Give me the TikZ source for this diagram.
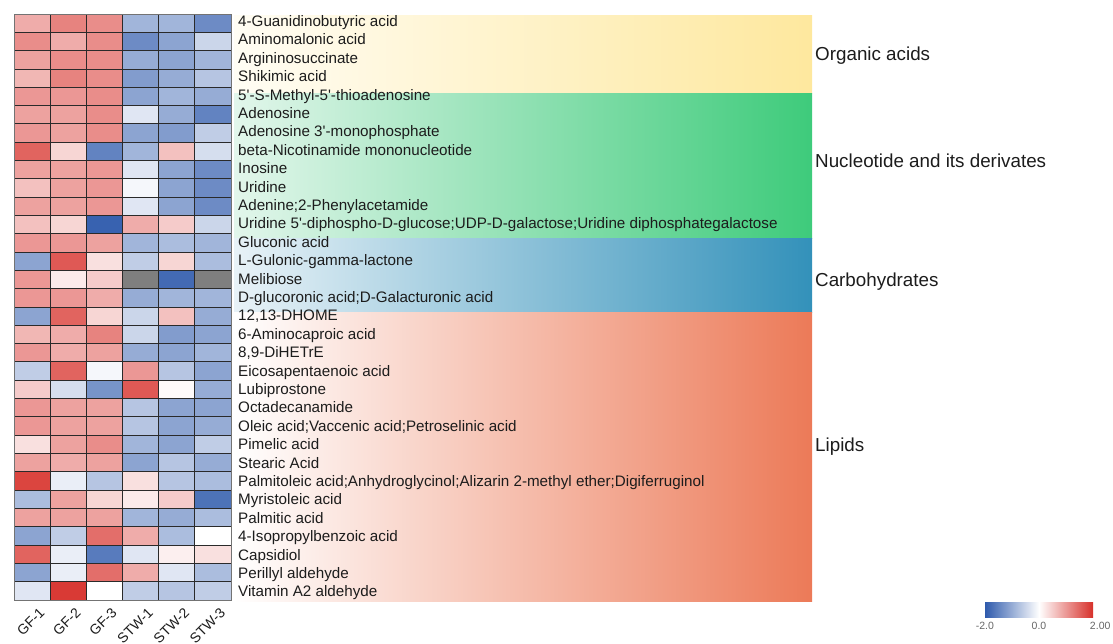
\documentclass[tikz,border=0pt]{standalone}
\usepackage{fontspec}
\setmainfont{Liberation Sans}
\usetikzlibrary{positioning}

\definecolor{hmblue}{HTML}{2E5AAC}
\definecolor{hmred}{HTML}{D7302A}
\definecolor{hmna}{HTML}{7F7F7F}
\definecolor{gridline}{HTML}{2A2A2A}
\definecolor{txt}{HTML}{1C1C1C}
\definecolor{orgL}{HTML}{FFFDF4}
\definecolor{orgR}{HTML}{FEE89E}
\definecolor{nucL}{HTML}{E2F6EB}
\definecolor{nucR}{HTML}{3ECB7B}
\definecolor{carL}{HTML}{E8F2F7}
\definecolor{carR}{HTML}{3391BA}
\definecolor{lipL}{HTML}{FFFFFF}
\definecolor{lipR}{HTML}{EC7A58}

\begin{document}
\begin{tikzpicture}[x=1pt, y=-1pt,
    cell/.style={draw=gridline, line width=0.8pt},
    rowlab/.style={anchor=west, inner sep=0pt, text height=10pt, text depth=3pt,
      font=\fontsize{15.2}{17}\selectfont, text=txt},
    grouplab/.style={anchor=west, inner sep=0pt, text height=13pt, text depth=4pt,
      font=\fontsize{18.8}{20}\selectfont, text=txt},
    collab/.style={anchor=east, rotate=45, inner sep=0pt,
      font=\fontsize{14}{16}\selectfont, text=txt},
    ticklab/.style={inner sep=0pt, font=\fontsize{10.5}{12}\selectfont, text=black!60}]

    \useasboundingbox (0,0) rectangle (1113,643);

    % Group bands
    \shade[left color=orgL, right color=orgR] (234,15) rectangle (812,93);
    \shade[left color=nucL, right color=nucR] (234,93) rectangle (812,238);
    \shade[left color=carL, right color=carR] (234,238) rectangle (812,312);
    \shade[left color=lipL, right color=lipR] (234,312) rectangle (812,601);

    % Heatmap (9 = NA)
    \foreach \vals [count=\r] in {
        {0.8,1.2,1.1,-0.9,-0.9,-1.4},
        {1.1,0.8,1.1,-1.4,-1.1,-0.5},
        {0.9,1.1,1.1,-1.0,-1.1,-0.9},
        {0.7,1.2,1.1,-1.2,-1.0,-0.7},
        {1.0,1.0,1.1,-1.1,-0.9,-1.0},
        {0.9,0.9,1.1,-0.3,-1.0,-1.5},
        {1.0,0.9,1.1,-1.1,-1.2,-0.6},
        {1.5,0.4,-1.5,-0.9,0.6,-0.4},
        {0.9,0.9,1.0,-0.3,-1.1,-1.4},
        {0.6,0.9,1.0,-0.1,-1.1,-1.4},
        {0.9,0.9,1.0,-0.3,-1.1,-1.4},
        {0.6,0.4,-1.9,0.8,0.5,-0.5},
        {1.0,1.0,0.9,-0.9,-0.8,-0.9},
        {-1.1,1.6,0.3,-0.6,0.4,-0.8},
        {1.0,0.2,0.5,9,-1.8,9},
        {1.0,1.0,0.8,-1.0,-0.9,-0.9},
        {-1.1,1.5,0.4,-0.5,0.6,-1.0},
        {0.7,0.8,1.2,-0.5,-1.2,-1.1},
        {1.0,0.8,0.9,-1.0,-1.1,-0.9},
        {-0.6,1.5,-0.1,1.0,-0.7,-1.1},
        {0.5,-0.4,-1.3,1.6,0.05,-1.0},
        {1.0,0.9,0.9,-0.7,-1.1,-1.1},
        {1.0,0.9,0.9,-0.7,-1.1,-1.0},
        {0.3,0.9,1.1,-0.9,-1.1,-0.6},
        {0.9,0.8,0.9,-1.1,-0.7,-1.0},
        {1.8,-0.2,-0.7,0.3,-0.7,-0.8},
        {-0.8,0.9,0.4,0.2,0.5,-1.7},
        {0.9,0.9,0.9,-0.9,-1.0,-0.8},
        {-1.1,-0.6,1.4,0.8,-0.8,0.0},
        {1.5,-0.2,-1.6,-0.3,0.15,0.3},
        {-1.1,-0.2,1.4,0.8,-0.3,-0.8},
        {-0.3,1.9,0.0,-0.6,-0.7,-0.6}} {
      \foreach \v [count=\c] in \vals {
        \ifdim \v pt>5pt
          \def\cellcol{hmna}
        \else
          \pgfmathsetmacro\pct{min(100,abs(\v)*50)}
          \ifdim \v pt<0pt \edef\cellcol{hmblue!\pct!white}\else\edef\cellcol{hmred!\pct!white}\fi
        \fi
        \filldraw[cell, fill=\cellcol] ({14+(\c-1)*36.17},{14+(\r-1)*18.31}) rectangle ++(36.17,18.31);
      }
    }
    \draw[black!55, line width=0.8pt] (14,14) rectangle (231,600);

    % Row labels
    \foreach \name [count=\r] in {4-Guanidinobutyric acid, Aminomalonic acid, Argininosuccinate,
        Shikimic acid, 5\textquotesingle-S-Methyl-5\textquotesingle-thioadenosine, Adenosine,
        Adenosine 3\textquotesingle-monophosphate, beta-Nicotinamide mononucleotide, Inosine, Uridine,
        Adenine;2-Phenylacetamide,
        Uridine 5\textquotesingle-diphospho-D-glucose;UDP-D-galactose;Uridine diphosphategalactose,
        Gluconic acid, L-Gulonic-gamma-lactone, Melibiose, D-glucoronic acid;D-Galacturonic acid,
        {12,13-DHOME}, 6-Aminocaproic acid, {8,9-DiHETrE}, Eicosapentaenoic acid, Lubiprostone,
        Octadecanamide, Oleic acid;Vaccenic acid;Petroselinic acid, Pimelic acid, Stearic Acid,
        Palmitoleic acid;Anhydroglycinol;Alizarin 2-methyl ether;Digiferruginol, Myristoleic acid,
        Palmitic acid, 4-Isopropylbenzoic acid, Capsidiol, Perillyl aldehyde, Vitamin A2 aldehyde}
      \node (lab\r) [rowlab] at (238,{23+(\r-1)*18.4}) {\name};

    % Group labels
    \node (grporg) [grouplab] at (815,56) {Organic acids};
    \node (grpnuc) [grouplab] at (815,163) {Nucleotide and its derivates};
    \node (grpcar) [grouplab] at (815,282) {Carbohydrates};
    \node (grplip) [grouplab] at (815,447) {Lipids};

    % Sample labels
    \foreach \name [count=\c] in {GF-1, GF-2, GF-3, STW-1, STW-2, STW-3}
      \node (col\c) [collab] at ({14+(\c-0.5)*36.17+10},610) {\name};

    % Colour key
    \node (cbar) [minimum width=108pt, minimum height=15pt, inner sep=0pt,
      left color=hmblue, right color=hmred, middle color=white] at (1039,609.5) {};
    \node (tmin) [ticklab, below=5pt of cbar.south west] {-2.0};
    \node (tmid) [ticklab, below=5pt of cbar.south] {0.0};
    \node (tmax) [ticklab, below=5pt of cbar.south east, xshift=7pt] {2.00};

\end{tikzpicture}
\end{document}
